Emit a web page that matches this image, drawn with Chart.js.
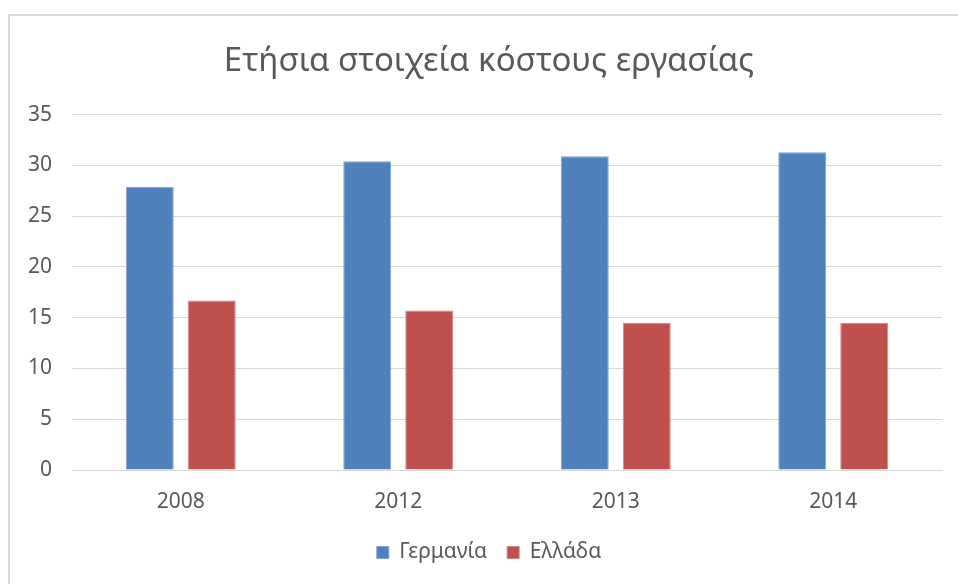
<!DOCTYPE html>
<html>
<head>
<meta charset="utf-8">
<script src="https://cdn.jsdelivr.net/npm/chart.js@4"></script>
<style>
  body { margin: 0; background: #fff; overflow: hidden; }
  #wrap { position: relative; width: 958px; height: 584px; overflow: hidden; }
  #frame {
    position: absolute; left: 8px; top: 14px; right: -4px; bottom: -4px;
    border: 2px solid #d9d9d9; pointer-events: none;
  }
</style>
</head>
<body>
<div id="wrap">
  <canvas id="costChart" width="994" height="584"></canvas>
  <div id="frame"></div>
</div>
<script>
// annual labour cost data
const years = ['2008', '2012', '2013', '2014'];
const germany = [27.9, 30.4, 30.9, 31.3];
const greece = [16.7, 15.7, 14.5, 14.5];
const yTicks = [0, 5, 10, 15, 20, 25, 30, 35];

const fontFamily = '"Noto Sans", "Open Sans", sans-serif';
const textColor = '#595959';
const gridColor = '#d9d9d9';

Chart.defaults.font.family = fontFamily;
Chart.defaults.color = textColor;

new Chart(document.getElementById('costChart'), {
    type: 'bar',
    data: {
        labels: years,
        datasets: [
            {
                label: 'Γερμανία',
                data: germany,
                backgroundColor: '#4f81bd',
                borderColor: '#7fa3d0',
                borderWidth: 1,
            },
            {
                label: 'Ελλάδα',
                data: greece,
                backgroundColor: '#c0504d',
                borderColor: '#d68583',
                borderWidth: 1,
            }
        ]
    },
    options: {
        responsive: false,
        animation: false,
        categoryPercentage: 0.57,
        barPercentage: 0.774,
        layout: {
            // canvas runs past the window so title and legend centre like the original
            padding: { left: 0, right: 16, top: 0, bottom: 11 }
        },
        plugins: {
            title: {
                display: true,
                text: 'Ετήσια στοιχεία κόστους εργασίας',
                font: { size: 33, weight: 'normal' },
                color: textColor,
                padding: { top: 42, bottom: 33 }
            },
            legend: {
                position: 'bottom',
                labels: {
                    boxWidth: 12,
                    boxHeight: 12,
                    padding: 20,
                    font: { size: 21 },
                    color: textColor
                }
            },
            tooltip: { enabled: false }
        },
        scales: {
            x: {
                grid: { display: false, drawTicks: false },
                border: { color: gridColor },
                ticks: { font: { size: 21 }, padding: 19 },
                afterFit: scale => { scale.height = 52; }
            },
            y: {
                min: 0,
                max: 35,
                afterBuildTicks: scale => {
                    scale.ticks = yTicks.map(v => ({ value: v }));
                },
                grid: { color: gridColor, drawTicks: false },
                border: { display: false },
                ticks: { font: { size: 21 }, padding: 20 },
                afterFit: scale => { scale.width = 72; }
            },
            // empty spacer on the right
            spacer: {
                type: 'linear',
                position: 'right',
                grid: { display: false, drawTicks: false },
                border: { display: false },
                ticks: { display: false },
                afterFit: scale => { scale.width = 36; }
            }
        }
    }
});
</script>
</body>
</html>
